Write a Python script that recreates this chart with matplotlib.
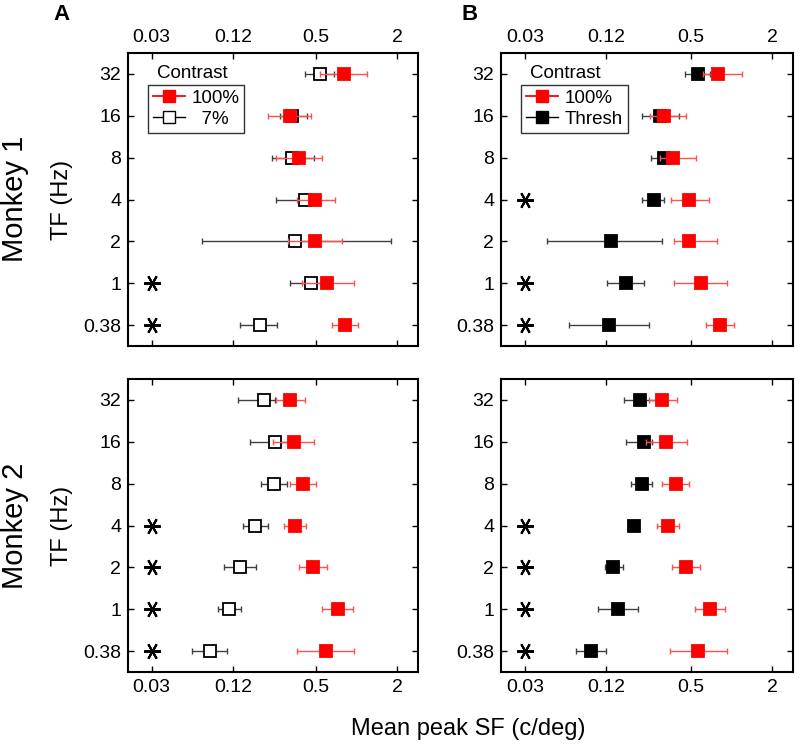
import numpy as np
import matplotlib.pyplot as plt
from matplotlib.lines import Line2D

plt.rcParams['font.family'] = ['Liberation Sans', 'DejaVu Sans']

tf_labels = ['32', '16', '8', '4', '2', '1', '0.38']
xticks = [0.03, 0.12, 0.5, 2]
xtick_labels = ['0.03', '0.12', '0.5', '2']

# Monkey 1, 100% contrast (panel A)
m1a_full = [0.81, 0.32, 0.37, 0.49, 0.49, 0.60, 0.82]
m1a_full_lo = [0.53, 0.22, 0.25, 0.36, 0.31, 0.39, 0.65]
m1a_full_hi = [1.20, 0.46, 0.55, 0.69, 0.78, 0.95, 1.02]
# Monkey 1, 7% contrast
m1a_low = [0.53, 0.33, 0.33, 0.41, 0.35, 0.46, 0.19]
m1a_low_lo = [0.41, 0.27, 0.235, 0.25, 0.071, 0.32, 0.135]
m1a_low_hi = [0.68, 0.43, 0.485, 0.49, 1.79, 0.58, 0.256]
m1a_stars = [5, 6]

# Monkey 1, 100% contrast (panel B)
m1b_full = [0.80, 0.32, 0.37, 0.49, 0.49, 0.60, 0.82]
m1b_full_lo = [0.62, 0.25, 0.30, 0.36, 0.38, 0.38, 0.65]
m1b_full_hi = [1.20, 0.46, 0.55, 0.68, 0.78, 0.93, 1.04]
# Monkey 1, threshold
m1b_thr = [0.57, 0.30, 0.32, 0.27, 0.129, 0.166, 0.125]
m1b_thr_lo = [0.455, 0.22, 0.255, 0.22, 0.044, 0.121, 0.063]
m1b_thr_hi = [0.70, 0.41, 0.40, 0.32, 0.31, 0.228, 0.246]
m1b_stars = [3, 5, 6]

# Monkey 2, 100% contrast (panel A)
m2a_full = [0.32, 0.34, 0.40, 0.35, 0.47, 0.72, 0.59]
m2a_full_lo = [0.25, 0.24, 0.32, 0.29, 0.37, 0.555, 0.36]
m2a_full_hi = [0.41, 0.48, 0.50, 0.42, 0.60, 0.93, 0.96]
# Monkey 2, 7% contrast
m2a_low = [0.206, 0.245, 0.243, 0.176, 0.136, 0.112, 0.081]
m2a_low_lo = [0.131, 0.16, 0.194, 0.143, 0.103, 0.094, 0.060]
m2a_low_hi = [0.249, 0.369, 0.303, 0.22, 0.18, 0.137, 0.109]
m2a_stars = [3, 4, 5, 6]

# Monkey 2, 100% contrast (panel B)
m2b_full = [0.31, 0.33, 0.39, 0.34, 0.46, 0.70, 0.57]
m2b_full_lo = [0.245, 0.233, 0.307, 0.281, 0.366, 0.542, 0.353]
m2b_full_hi = [0.40, 0.47, 0.49, 0.41, 0.59, 0.90, 0.93]
# Monkey 2, threshold
m2b_thr = [0.211, 0.228, 0.219, 0.192, 0.135, 0.146, 0.092]
m2b_thr_lo = [0.161, 0.167, 0.182, 0.186, 0.116, 0.103, 0.072]
m2b_thr_hi = [0.282, 0.26, 0.262, 0.198, 0.158, 0.206, 0.118]
m2b_stars = [3, 4, 5, 6]

red = '#ff0000'
bar_red = '#ff5050'
bar_gray = '#404040'

fig = plt.figure(figsize=(8, 7.46), dpi=100)
W, H = 800, 746
boxes = {
    'A1': (128, 53, 418, 346),
    'B1': (501, 53, 793, 346),
    'A2': (128, 379, 418, 672),
    'B2': (501, 379, 793, 672),
}


def make_ax(key):
    l, t, r, b = boxes[key]
    return fig.add_axes([l / W, 1 - b / H, (r - l) / W, (b - t) / H])


def series(ax, c, lo, hi, col, ecol, mfc, z):
    y = np.arange(len(c))
    c = np.array(c)
    err = [c - np.array(lo), np.array(hi) - c]
    ax.errorbar(c, y, xerr=err, fmt='none', ecolor=ecol, elinewidth=1.0,
                capsize=2.5, capthick=1.0, zorder=z)
    ax.plot(c, y, 's', ms=8, mfc=mfc, mec=col, mew=1.3, ls='none', zorder=z + 0.5)


def style(ax, top):
    ax.set_xscale('log')
    ax.set_xlim(0.02, 2.85)
    ax.set_ylim(6.5, -0.5)
    ax.set_yticks(np.arange(len(tf_labels)))
    ax.set_yticklabels(tf_labels)
    ax.set_xticks(xticks)
    ax.set_xticklabels(xtick_labels)
    ax.minorticks_off()
    ax.tick_params(axis='both', direction='in', length=4, width=1, labelsize=14,
                   top=True, right=True, labeltop=top, labelbottom=not top, pad=5)
    for s in ax.spines.values():
        s.set_linewidth(1.5)


panels = [
    ('A1', m1a_full, m1a_full_lo, m1a_full_hi, m1a_low, m1a_low_lo, m1a_low_hi, m1a_stars, 'white', '7%'),
    ('B1', m1b_full, m1b_full_lo, m1b_full_hi, m1b_thr, m1b_thr_lo, m1b_thr_hi, m1b_stars, 'black', 'Thresh'),
    ('A2', m2a_full, m2a_full_lo, m2a_full_hi, m2a_low, m2a_low_lo, m2a_low_hi, m2a_stars, 'white', None),
    ('B2', m2b_full, m2b_full_lo, m2b_full_hi, m2b_thr, m2b_thr_lo, m2b_thr_hi, m2b_stars, 'black', None),
]

for key, fc, flo, fhi, lc, llo, lhi, stars, lfill, lab in panels:
    ax = make_ax(key)
    series(ax, lc, llo, lhi, 'black', bar_gray, lfill, 2)
    series(ax, fc, flo, fhi, red, bar_red, red, 4)
    ax.plot([0.03] * len(stars), stars, marker=(6, 2, 90), ms=12, mew=1.5,
            color='black', ls='none', zorder=5)
    style(ax, key.endswith('1'))
    if lab:
        h = [Line2D([], [], color=red, marker='s', ms=8, mfc=red, mec=red, lw=1.3),
             Line2D([], [], color='black', marker='s', ms=8, mfc=lfill, mec='black', lw=1.0)]
        leg = ax.legend(h, ['100%', '  ' + lab if lab == '7%' else lab],
                        loc='upper left', bbox_to_anchor=(0.07, 0.89),
                        fontsize=13.5, frameon=True, fancybox=False,
                        edgecolor='black', handlelength=1.7, handletextpad=0.35,
                        borderpad=0.25, labelspacing=0.2, borderaxespad=0)
        leg.get_frame().set_linewidth(1.0)
        ax.text(0.1, 0.93, 'Contrast', transform=ax.transAxes,
                fontsize=13.5, va='center', ha='left')

fig.text(62 / W, 1 - 14 / H, 'A', fontsize=16, fontweight='bold', ha='center', va='center')
fig.text(470 / W, 1 - 14 / H, 'B', fontsize=16, fontweight='bold', ha='center', va='center')
fig.text(15 / W, 1 - 199 / H, 'Monkey 1', fontsize=21, rotation=90, ha='center', va='center')
fig.text(15 / W, 1 - 526 / H, 'Monkey 2', fontsize=21, rotation=90, ha='center', va='center')
fig.text(62 / W, 1 - 200 / H, 'TF (Hz)', fontsize=17, rotation=90, ha='center', va='center')
fig.text(62 / W, 1 - 526 / H, 'TF (Hz)', fontsize=17, rotation=90, ha='center', va='center')
fig.text(468 / W, 1 - 729 / H, 'Mean peak SF (c/deg)', fontsize=17, ha='center', va='center')

fig.savefig('out.png', dpi=100)
